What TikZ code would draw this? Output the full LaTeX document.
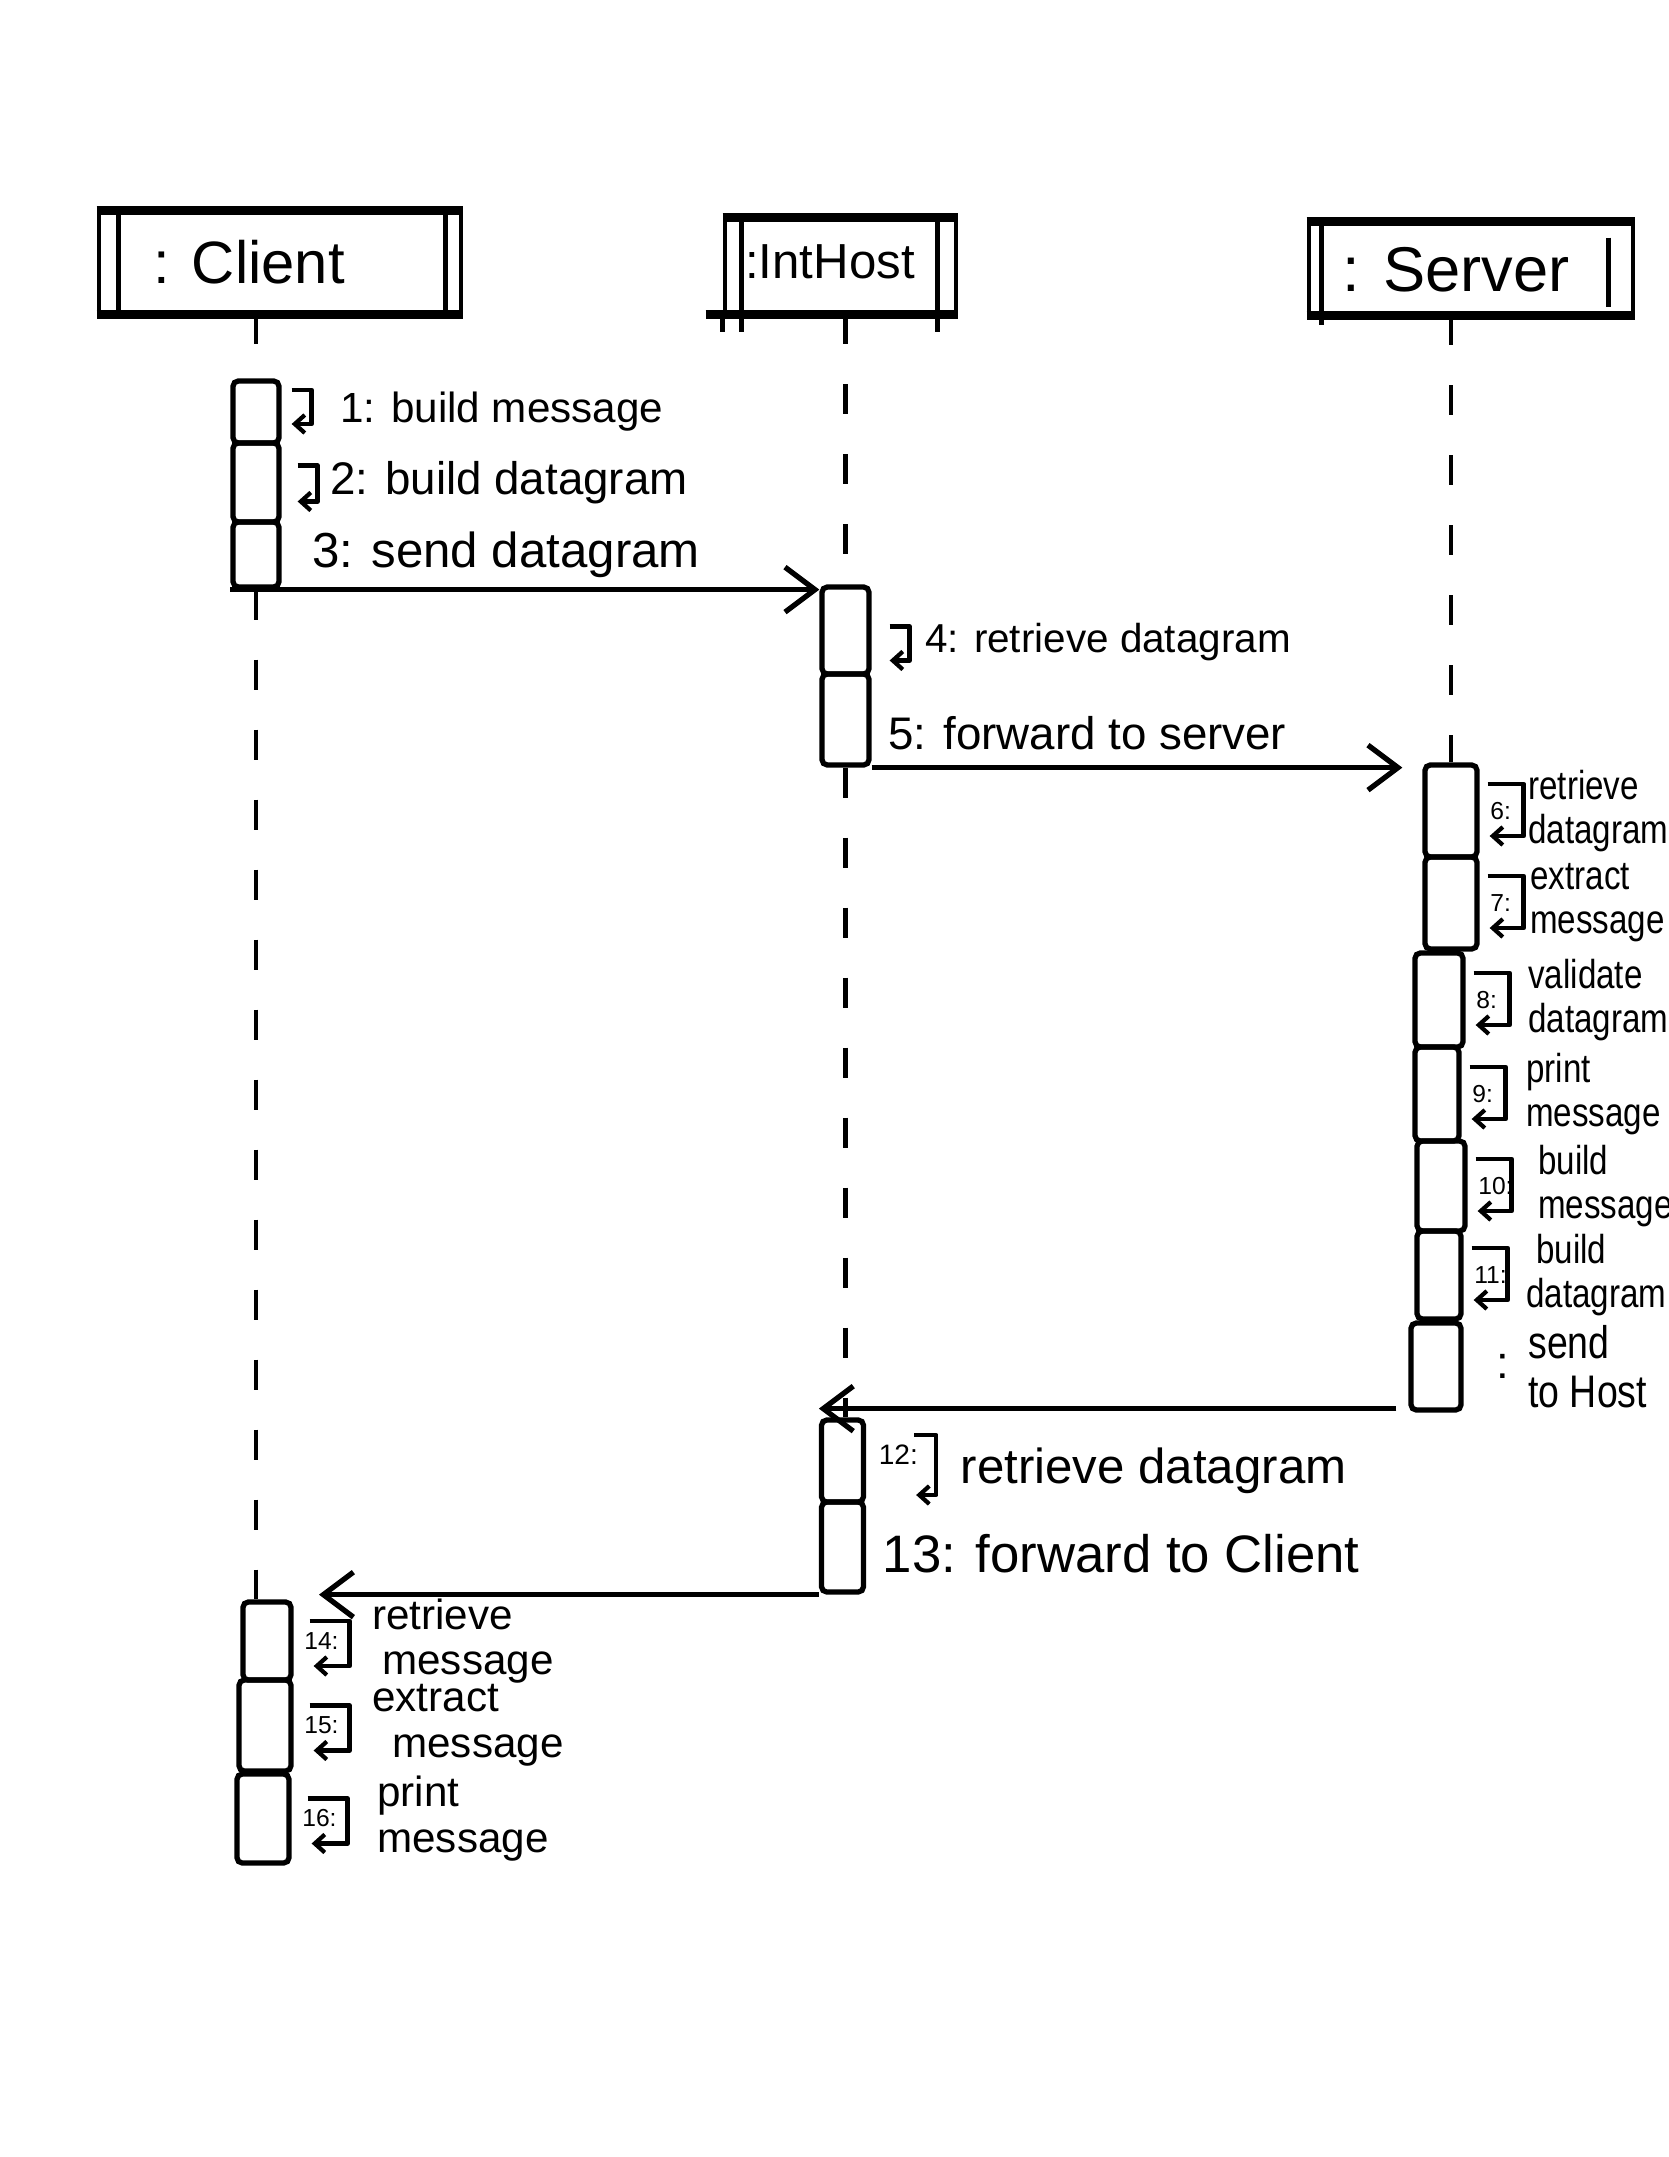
\documentclass[tikz,border=0pt]{standalone}
\usepackage{fontspec}
\setmainfont{Liberation Sans}
\newfontfamily\narrowsans[FakeStretch=0.82]{Liberation Sans}
\usetikzlibrary{positioning,arrows.meta}
\tikzset{
  head/.style={draw, line width=1.3pt, inner sep=0pt},
  headedge/.style={line width=2.6pt},
  headline/.style={line width=1.3pt},
  headtxt/.style={inner sep=0pt, font=\fontsize{18}{20}\selectfont},
  act/.style={draw, line width=1.5pt, minimum width=0.46cm, inner sep=0pt, rounded corners=1.5pt},
  life/.style={line width=1.4pt, dash pattern=on 0.3cm off 0.4cm},
  msg/.style={line width=1.5pt, -{Straight Barb[length=0.3cm,width=0.45cm,line width=1.5pt]}},
  selfcall/.style={line width=1.3pt, line join=round, -{Straight Barb[length=0.1cm,width=0.18cm,line width=1.2pt]}},
  lbl/.style={inner sep=0pt, font=\fontsize{13}{15}\selectfont},
  lbltwo/.style={inner sep=0pt, align=left, font=\fontsize{11}{12.5}\selectfont},
  srvtwo/.style={inner sep=0pt, align=left, font=\narrowsans\fontsize{11.5}{12.5}\selectfont},
  num/.style={inner sep=0pt, font=\fontsize{7}{8}\selectfont},
}
\begin{document}
\begin{tikzpicture}
\useasboundingbox (0,0) rectangle (16.68,-21.57);

% heads
\node[head, minimum width=3.62cm, minimum height=0.99cm] (client) at (2.80,-2.625) {};
\node[headtxt, font=\fontsize{17}{19}\selectfont] (clientname) at (2.49,-2.62) {: Client};
\draw[headedge] (client.north west) -- (client.north east);
\draw[headedge] (client.south west) -- (client.south east);
\draw[headline] ([xshift=0.22cm]client.north west) -- ([xshift=0.22cm]client.south west);
\draw[headline] ([xshift=-0.18cm]client.north east) -- ([xshift=-0.18cm]client.south east);

\node[head, minimum width=2.31cm, minimum height=0.92cm] (inthost) at (8.405,-2.66) {};
\node[headtxt, font=\fontsize{14}{16}\selectfont] (inthostname) at (8.30,-2.62) {:IntHost};
\draw[headedge] (inthost.north west) -- (inthost.north east);
\draw[headedge] ([xshift=-0.17cm]inthost.south west) -- (inthost.south east);
\draw[headline] (inthost.south west) -- ++(0,-0.18);
\draw[headline] ([xshift=0.19cm]inthost.north west) -- ([shift={(0.19,-0.18)}]inthost.south west);
\draw[headline] ([xshift=-0.21cm]inthost.north east) -- ([shift={(-0.21,-0.18)}]inthost.south east);

\node[head, minimum width=3.24cm, minimum height=0.89cm] (server) at (14.71,-2.685) {};
\node[headtxt] (servername) at (14.56,-2.70) {: Server};
\draw[headedge] (server.north west) -- (server.north east);
\draw[headedge] (server.south west) -- (server.south east);
\draw[headline] ([xshift=0.15cm]server.north west) -- ([shift={(0.15,-0.1)}]server.south west);
\draw[headline] ([shift={(-0.27,-0.16)}]server.north east) -- ([shift={(-0.27,0.08)}]server.south east);

% activations
\node[act, minimum height=0.62cm] (c1) at (2.56,-4.12) {};
\node[act, minimum height=0.79cm] (c2) at (2.56,-4.825) {};
\node[act, minimum height=0.65cm] (c3) at (2.56,-5.545) {};

\node[act, minimum width=0.47cm, minimum height=0.87cm] (i4) at (8.455,-6.305) {};
\node[act, minimum width=0.47cm, minimum height=0.91cm] (i5) at (8.455,-7.195) {};

\node[act, minimum width=0.52cm, minimum height=0.92cm] (s6) at (14.51,-8.11) {};
\node[act, minimum width=0.52cm, minimum height=0.92cm] (s7) at (14.51,-9.03) {};
\node[act, minimum width=0.48cm, minimum height=0.94cm] (s8) at (14.39,-10.00) {};
\node[act, minimum width=0.44cm, minimum height=0.94cm] (s9) at (14.37,-10.94) {};
\node[act, minimum width=0.48cm, minimum height=0.90cm] (s10) at (14.41,-11.86) {};
\node[act, minimum width=0.44cm, minimum height=0.88cm] (s11) at (14.39,-12.75) {};
\node[act, minimum width=0.50cm, minimum height=0.87cm] (ssend) at (14.36,-13.665) {};

\node[act, minimum width=0.42cm, minimum height=0.82cm] (i12) at (8.425,-14.61) {};
\node[act, minimum width=0.42cm, minimum height=0.90cm] (i13) at (8.425,-15.47) {};

\node[act, minimum width=0.48cm, minimum height=0.78cm] (c14) at (2.67,-16.41) {};
\node[act, minimum width=0.52cm, minimum height=0.91cm] (c15) at (2.65,-17.255) {};
\node[act, minimum width=0.52cm, minimum height=0.89cm] (c16) at (2.63,-18.185) {};

% lifelines
\draw[life] (client.south -| c1.north) -- (c1.north);
\draw[life] (c3.south) -- (c3.south |- c14.north);
\draw[life] (inthost.south -| i4.north) -- (i4.north);
\draw[life] (i5.south) -- (i5.south |- i12.north);
\draw[life] (server.south -| s6.north) -- (s6.north);

% messages
\draw[msg] (c3.south west) -- (c3.south west -| i4.west);
\draw[msg] (i5.south east) -- ([xshift=-0.2cm]i5.south east -| s6.west);
\draw[msg] ([shift={(-0.12,0.04)}]ssend.south west) -- ([yshift=0.04cm]ssend.south west -| i12.west);
\coordinate (cin) at (3.19,-15.92);
\draw[msg] (i13.south west) -- (i13.south west -| cin);

% self calls
\draw[selfcall] ([shift={(0.1,0.22)}]c1.east) -- ++(0.2,0) -- ++(0,-0.34) -- ++(-0.2,0);
\draw[selfcall] ([shift={(0.16,0.17)}]c2.east) -- ++(0.2,0) -- ++(0,-0.36) -- ++(-0.2,0);
\draw[selfcall] ([shift={(0.18,0.04)}]i4.east) -- ++(0.2,0) -- ++(0,-0.34) -- ++(-0.2,0);
\node[lbl, anchor=west, right=0.58cm of c1, font=\fontsize{12}{14}\selectfont] (l1) {1: build message};
\node[lbl, anchor=west, right=0.48cm of c2] (l2) {2: build datagram};
\node[lbl, anchor=west, right=0.30cm of c3, font=\fontsize{14}{16}\selectfont] (l3) {3: send datagram};
\node[lbl, anchor=west, right=0.53cm of i4, yshift=-0.12cm, font=\fontsize{11.5}{13}\selectfont] (l4) {4: retrieve datagram};
\node[lbl, anchor=west, right=0.16cm of i5, yshift=-0.14cm] (l5) {5: forward to server};

% server steps
\foreach \b/\n in {s6/6:, s7/7:, s8/8:, s9/9:, s10/10:, s11/11:}{
  \draw[selfcall] ([shift={(0.08,0.27)}]\b.east) -- ++(0.36,0) -- ++(0,-0.52) -- ++(-0.34,0);
  \node[num, right=0.1cm of \b] (n\b) {\n};
}
\node[srvtwo, anchor=west, right=0.48cm of s6] (t6) {retrieve\\datagram};
\node[srvtwo, anchor=west, right=0.5cm of s7] (t7) {extract\\message};
\node[srvtwo, anchor=west, right=0.62cm of s8] (t8) {validate\\datagram};
\node[srvtwo, anchor=west, right=0.64cm of s9] (t9) {print\\message};
\node[srvtwo, anchor=west, right=0.7cm of s10] (t10) {build\\message};
\node[srvtwo, anchor=west, right=0.62cm of s11] (t11) {\hspace{0.1cm}build\\datagram};
\node[lbl, right=0.32cm of ssend] (nsend) {:};
\node[srvtwo, anchor=west, right=0.64cm of ssend, font=\narrowsans\fontsize{13}{14}\selectfont] (tsend) {send\\to Host};

% back to client
\draw[selfcall] ([shift={(0.48,0.26)}]i12.east) -- ++(0.22,0) -- ++(0,-0.6) -- ++(-0.2,0);
\node[num, right=0.12cm of i12, yshift=0.06cm, font=\fontsize{8}{9}\selectfont] (n12) {12:};
\node[lbl, anchor=west, right=0.94cm of i12, yshift=-0.1cm, font=\fontsize{14}{16}\selectfont] (l12) {retrieve datagram};
\node[lbl, anchor=west, right=0.16cm of i13, yshift=-0.07cm, font=\fontsize{15}{17}\selectfont] (l13) {13: forward to Client};

\foreach \b/\n in {c14/14:, c15/15:, c16/16:}{
  \draw[selfcall] ([shift={(0.16,0.2)}]\b.east) -- ++(0.4,0) -- ++(0,-0.45) -- ++(-0.36,0);
  \node[num, right=0.1cm of \b] (n\b) {\n};
}
\node[lbltwo, anchor=west, right=0.78cm of c14, font=\fontsize{12}{13}\selectfont] (t14) {retrieve\\\hspace{0.1cm}message};
\node[lbltwo, anchor=west, right=0.78cm of c15, font=\fontsize{12}{13}\selectfont] (t15) {extract\\\hspace{0.2cm}message};
\node[lbltwo, anchor=west, right=0.85cm of c16, font=\fontsize{12}{13}\selectfont] (t16) {print\\message};
\end{tikzpicture}
\end{document}
